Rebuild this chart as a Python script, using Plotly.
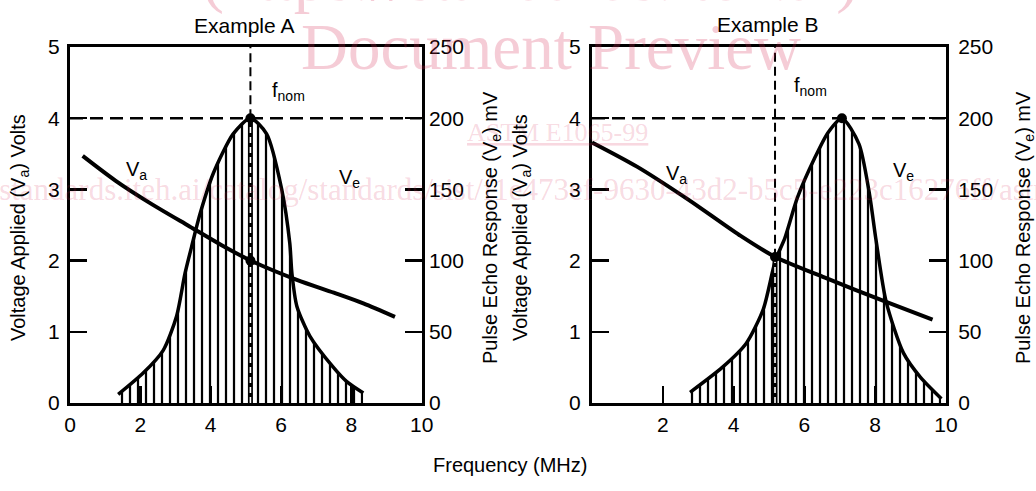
import plotly.graph_objects as go

# ---------------- data ----------------
# Example A
FREQ_VA_A = [0.36, 1.30, 2.30, 3.40, 4.30, 5.14, 6.45, 7.50, 8.34, 9.24]
VA_A = [3.47, 3.12, 2.80, 2.48, 2.22, 2.00, 1.73, 1.55, 1.40, 1.21]
FREQ_VE_A = [1.37, 2.08, 2.65, 3.03, 3.27, 3.46, 3.70, 4.07, 4.64, 5.13,
             5.59, 6.02, 6.25, 6.31, 6.45, 6.82, 7.49, 7.87, 8.34]
VE_A = [6, 21, 37, 61, 91, 110, 133, 161, 189, 200,
        189, 150, 112, 91, 68, 47, 25, 15, 7]
F_NOM_A = 5.13          # MHz
DOT_VA_A = 2.0          # V, where f_nom meets V_a
FNOM_MV_A = 200         # mV, V_e at f_nom
PEAK_F_A = 5.13         # MHz

# Example B
FREQ_VA_B = [0.0, 1.27, 2.71, 4.16, 5.18, 6.58, 8.31, 9.62]
VA_B = [3.66, 3.32, 2.86, 2.36, 2.05, 1.76, 1.42, 1.17]
FREQ_VE_B = [2.77, 3.68, 4.36, 4.84, 5.18, 5.45, 5.80, 6.29, 6.67, 7.06,
             7.54, 7.83, 8.02, 8.31, 8.80, 9.28, 9.87]
VE_B = [7.5, 25, 42, 66, 100, 116, 144, 172, 190, 200,
        182, 148, 115, 71, 35, 18, 3]
F_NOM_B = 5.17
DOT_VA_B = 2.05
FNOM_MV_B = 102
PEAK_F_B = 7.06

PEAK_MV = 200
X_RANGE = [0, 10]
V_RANGE = [0, 5]
MV_RANGE = [0, 250]
X_TICKS_A = [0, 2, 4, 6, 8, 10]
X_TICKS_B = [2, 4, 6, 8, 10]
V_TICKS = [0, 1, 2, 3, 4, 5]
MV_TICKS = [0, 50, 100, 150, 200, 250]

TITLES = ["Example A", "Example B"]
X_TITLE = "Frequency (MHz)"
V_TITLE = "Voltage Applied (V<sub>a</sub>) Volts"
MV_TITLE = "Pulse Echo Response (V<sub>e</sub>) mV"

# ---------------- layout helpers ----------------
W, H = 1036, 491


def px(x):
    return x / W


def py(y):
    return 1 - y / H


FONT = "Liberation Sans, Arial, Helvetica, sans-serif"
SERIF = "Liberation Serif, Times New Roman, serif"
FS = 20
TFS = 21

fig = go.Figure()

panels = [
    dict(xa="x", ymv="y", yv="y2", fva=FREQ_VA_A, va=VA_A, fve=FREQ_VE_A, ve=VE_A,
         fnom=F_NOM_A, dot=DOT_VA_A, fmv=FNOM_MV_A, pf=PEAK_F_A),
    dict(xa="x2", ymv="y3", yv="y4", fva=FREQ_VA_B, va=VA_B, fve=FREQ_VE_B, ve=VE_B,
         fnom=F_NOM_B, dot=DOT_VA_B, fmv=FNOM_MV_B, pf=PEAK_F_B),
]

for p in panels:
    # hatched echo response
    fig.add_trace(go.Scatter(
        x=p["fve"], y=p["ve"], xaxis=p["xa"], yaxis=p["ymv"], mode="lines",
        line=dict(color="black", width=3.5, shape="spline", smoothing=0.7),
        fill="tozeroy", fillcolor="rgba(255,255,255,0)",
        fillpattern=dict(shape="|", size=8, solidity=0.28, fgcolor="black",
                         bgcolor="rgba(255,255,255,0)"),
        hoverinfo="skip"))
    # f_nom inside the hatch: double line with white dashes
    fig.add_trace(go.Scatter(
        x=[p["fnom"], p["fnom"]], y=[MV_RANGE[0], p["fmv"]], xaxis=p["xa"], yaxis=p["ymv"],
        mode="lines", line=dict(color="black", width=5), hoverinfo="skip"))
    fig.add_trace(go.Scatter(
        x=[p["fnom"], p["fnom"]], y=[MV_RANGE[0], p["fmv"]], xaxis=p["xa"], yaxis=p["ymv"],
        mode="lines", line=dict(color="white", width=1.6, dash="6px,4px"), hoverinfo="skip"))
    # f_nom above the curve
    fig.add_trace(go.Scatter(
        x=[p["fnom"], p["fnom"]], y=[p["fmv"], MV_RANGE[1]], xaxis=p["xa"], yaxis=p["ymv"],
        mode="lines", line=dict(color="black", width=2, dash="9px,5px"), hoverinfo="skip"))
    # 200 mV reference
    fig.add_trace(go.Scatter(
        x=X_RANGE, y=[PEAK_MV, PEAK_MV], xaxis=p["xa"], yaxis=p["ymv"],
        mode="lines", line=dict(color="black", width=2.5, dash="13px,7px"), hoverinfo="skip"))
    fig.add_trace(go.Scatter(
        x=[p["pf"]], y=[PEAK_MV], xaxis=p["xa"], yaxis=p["ymv"], mode="markers",
        marker=dict(color="black", size=10), hoverinfo="skip"))
    # applied voltage
    fig.add_trace(go.Scatter(
        x=p["fva"], y=p["va"], xaxis=p["xa"], yaxis=p["yv"], mode="lines",
        line=dict(color="black", width=4, shape="spline", smoothing=0.8), hoverinfo="skip"))
    fig.add_trace(go.Scatter(
        x=[p["fnom"]], y=[p["dot"]], xaxis=p["xa"], yaxis=p["yv"], mode="markers",
        marker=dict(color="black", size=10), hoverinfo="skip"))

tickfont = dict(family=FONT, size=TFS, color="black")
common = dict(showgrid=False, zeroline=False, showline=True, linecolor="black", linewidth=3,
              ticks="inside", ticklen=17, tickwidth=2.5, tickcolor="black", tickfont=tickfont,
              automargin=False, fixedrange=True)

YDOM = [py(403), py(47)]
XDOM_A = [px(70), px(421.7)]
XDOM_B = [px(592), px(946)]

fig.update_layout(
    template="none",
    width=W, height=H, autosize=False,
    margin=dict(l=0, r=0, t=0, b=0, pad=0),
    paper_bgcolor="white", plot_bgcolor="white", showlegend=False,
    font=dict(family=FONT, size=FS, color="black"),
    xaxis=dict(domain=XDOM_A, range=X_RANGE, anchor="y", tickvals=X_TICKS_A, mirror=True,
               ticklabelstandoff=1, **common),
    yaxis=dict(domain=YDOM, range=MV_RANGE, anchor="x", side="right", tickvals=MV_TICKS,
               ticklabelstandoff=0, **common),
    yaxis2=dict(range=V_RANGE, anchor="x", overlaying="y", side="left", tickvals=V_TICKS,
                ticklabelstandoff=3, **common),
    xaxis2=dict(domain=XDOM_B, range=X_RANGE, anchor="y3", tickvals=X_TICKS_B, mirror=True,
                ticklabelstandoff=1, **common),
    yaxis3=dict(domain=YDOM, range=MV_RANGE, anchor="x2", side="right", tickvals=MV_TICKS,
                ticklabelstandoff=5, **common),
    yaxis4=dict(range=V_RANGE, anchor="x2", overlaying="y3", side="left", tickvals=V_TICKS,
                ticklabelstandoff=4, **common),
)

ann = []
# watermark of the source document
WM = "rgba(215,40,85,0.24)"
WM2 = "rgba(215,40,85,0.18)"
ann += [
    dict(text="(https://standards.iteh.ai)", x=px(530), y=py(-22), font=dict(family=SERIF, size=66, color=WM)),
    dict(text="Document Preview", x=px(551), y=py(47), font=dict(family=SERIF, size=65, color=WM)),
    dict(text="<u>ASTM E1065-99</u>", x=px(557), y=py(133), font=dict(family=SERIF, size=26, color=WM2)),
    dict(text="https://standards.iteh.ai/catalog/standards/sist/f1e473ef-9630-43d2-b5c5-e223c16276ff/astm-e1065-99",
         x=px(-89), y=py(190), xanchor="left", font=dict(family=SERIF, size=31, color=WM2)),
]
# titles and axis titles
ann += [
    dict(text=TITLES[0], x=px(244), y=py(25), font=dict(family=FONT, size=TFS, color="black")),
    dict(text=TITLES[1], x=px(768), y=py(24), font=dict(family=FONT, size=TFS, color="black")),
    dict(text=V_TITLE, x=px(19), y=py(228), textangle=-90),
    dict(text=MV_TITLE, x=px(491), y=py(228), textangle=-90),
    dict(text=V_TITLE, x=px(521), y=py(228), textangle=-90),
    dict(text=MV_TITLE, x=px(1024), y=py(228), textangle=-90),
    dict(text=X_TITLE, x=px(510), y=py(465)),
]
ann = [dict(xref="paper", yref="paper", showarrow=False, xanchor=a.pop("xanchor", "center"),
            yanchor="middle", **a) for a in ann]
# curve labels (data coordinates)
lab = [
    ("V<sub>a</sub>", "x", "y2", 1.9, 3.27),
    ("V<sub>e</sub>", "x", "y2", 7.96, 3.16),
    ("f<sub>nom</sub>", "x", "y2", 6.2, 4.37),
    ("V<sub>a</sub>", "x2", "y4", 2.4, 3.21),
    ("V<sub>e</sub>", "x2", "y4", 8.79, 3.25),
    ("f<sub>nom</sub>", "x2", "y4", 6.16, 4.44),
]
for t, xr, yr, xv, yv in lab:
    ann.append(dict(text=t, xref=xr, yref=yr, x=xv, y=yv, showarrow=False,
                    font=dict(family=FONT, size=FS, color="black")))

fig.update_layout(annotations=ann)
fig.write_html("out.html", config={"displayModeBar": False, "staticPlot": True},
               post_script="document.body.style.margin='0px';")
